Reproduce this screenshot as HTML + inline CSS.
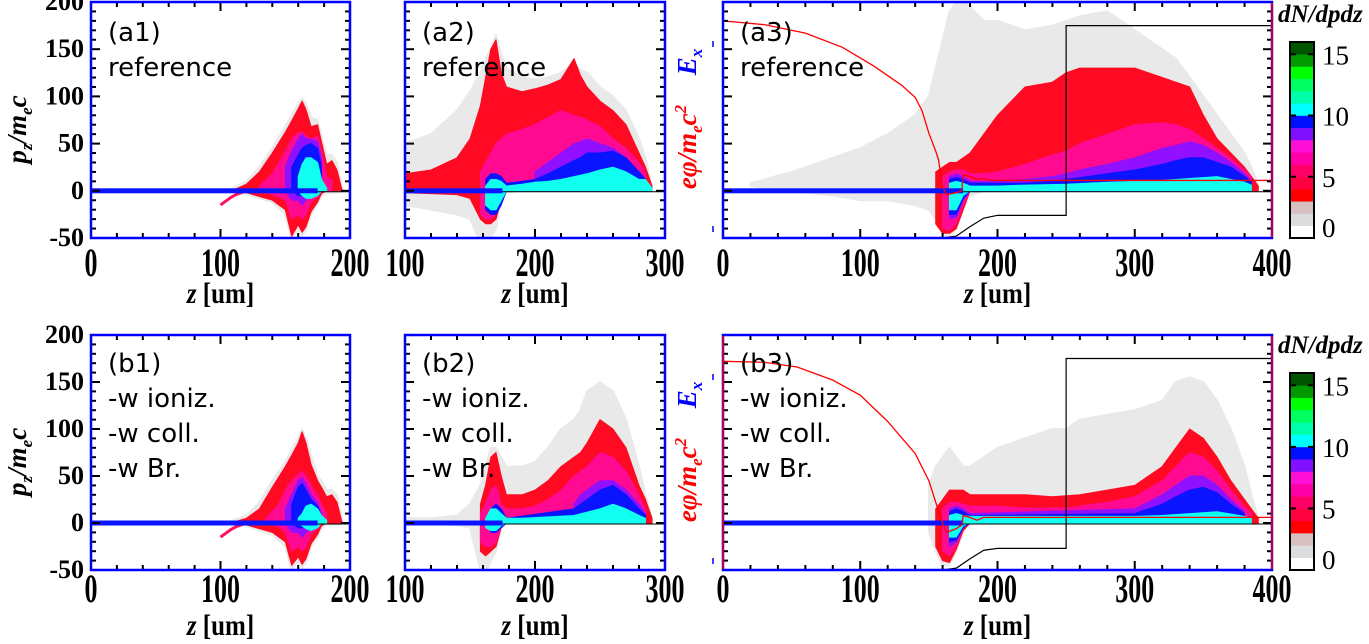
<!DOCTYPE html>
<html><head><meta charset="utf-8"><style>
html,body{margin:0;padding:0;background:#fff;}
svg{display:block;}
.tk{font-family:"Liberation Serif",serif;font-weight:bold;fill:#000;}
.pl{font-family:"DejaVu Sans","Liberation Sans",sans-serif;font-size:26px;fill:#000;}
</style></head><body>
<svg id="fig" width="1369" height="644" viewBox="0 0 1369 644" xmlns="http://www.w3.org/2000/svg"></svg>
<script>
// ---------- data (z [um], upper p, lower p) ----------
const a1Gray=[[108,2,0],[120,10,-3],[130,25,-8],[140,45,-12],[150,68,-25],[155,80,-52],[160,92,-40],[163,98,-48],[166,92,-42],[170,78,-25],[175,75,-15],[178,58,-5],[182,38,-2],[186,38,-2],[190,30,-2],[194,4,-1]];
const a1Red=[[110,1,0],[120,7,-2],[130,20,-6],[140,40,-10],[150,62,-20],[155,74,-48],[160,87,-36],[163,95,-44],[166,86,-38],[170,68,-22],[175,70,-12],[178,52,-3],[182,28,0],[186,32,0],[190,22,0],[194,0,0]];
const a1Pink=[[130,5,0],[140,18,-4],[150,42,-10],[155,55,-30],[160,62,-25],[163,62,-30],[166,58,-25],[170,55,-12],[175,58,-6],[178,42,-1],[182,15,0],[186,12,0]];
const a1Purple=[[150,25,0],[155,42,-10],[160,55,-10],[163,60,-15],[166,55,-10],[170,55,-5],[175,52,-2],[178,35,0]];
const a1Blue=[[155,25,0],[160,38,-5],[163,45,-5],[166,48,-3],[170,50,-3],[175,45,-2],[178,25,0]];
const a1Cyan=[[160,15,0],[163,28,-5],[166,35,-8],[170,35,-8],[175,30,-5],[178,12,0],[182,3,0]];
const a1Tail=[[100,-15],[104,-11],[108,-7],[112,-4],[118,-1],[125,0]];

const b1Gray=[[108,2,0],[120,8,-3],[130,22,-8],[140,45,-12],[150,65,-25],[155,78,-50],[160,90,-40],[163,100,-48],[166,90,-42],[170,72,-25],[175,50,-15],[178,45,-5],[182,35,-2],[186,35,-2],[190,30,-2],[194,4,-1]];
const b1Red=[[110,1,0],[120,5,-2],[130,15,-6],[140,38,-10],[150,60,-20],[155,72,-45],[160,85,-36],[163,97,-44],[166,85,-38],[170,62,-22],[175,45,-12],[178,38,-3],[182,28,0],[186,30,0],[190,22,0],[194,0,0]];
const b1Pink=[[135,5,0],[145,20,-4],[150,35,-10],[155,45,-30],[160,52,-25],[163,55,-30],[166,50,-25],[170,40,-12],[175,30,-6],[178,20,-1],[182,10,0]];
const b1Purple=[[150,15,0],[155,30,-10],[160,45,-10],[163,48,-15],[166,42,-10],[170,30,-5],[175,22,-2],[178,10,0]];
const b1Blue=[[155,20,0],[160,38,-5],[163,42,-5],[166,35,-3],[170,25,-3],[175,18,-2],[178,8,0]];
const b1Cyan=[[160,5,0],[163,10,-3],[166,18,-6],[170,20,-8],[175,15,-5],[178,8,0],[182,3,0]];
const b1Tail=[[100,-15],[104,-11],[108,-7],[112,-4],[118,-1],[125,0]];

const a2Gray=[[100,50,-15],[120,60,-20],[140,85,-25],[150,105,-30],[158,125,-55],[162,140,-55],[166,150,-50],[170,165,-40],[174,145,-10],[178,130,-2],[190,120,0],[200,118,0],[210,120,0],[220,125,0],[230,135,0],[235,128,0],[240,125,0],[250,110,0],[260,100,0],[270,85,0],[280,55,0],[285,35,0],[290,5,0]];
const a2Red=[[100,18,-2],[120,22,-3],[140,35,-4],[150,55,-8],[158,90,-30],[162,120,-35],[166,150,-35],[170,160,-30],[174,125,-10],[178,110,0],[190,105,0],[200,108,0],[210,112,0],[220,118,0],[230,140,0],[235,122,0],[240,110,0],[250,95,0],[260,85,0],[270,70,0],[280,40,0],[285,25,0],[290,5,0]];
const a2Pink=[[158,20,-25],[162,30,-30],[166,40,-30],[170,50,-25],[174,55,-8],[178,60,0],[190,65,0],[200,70,0],[210,78,0],[220,85,0],[230,80,0],[235,78,0],[240,75,0],[250,68,0],[260,55,0],[270,45,0],[280,30,0],[285,20,0]];
const a2Purple=[[200,20,0],[210,30,0],[220,40,0],[230,50,0],[235,52,0],[240,55,0],[250,50,0],[260,45,0],[270,35,0],[280,20,0],[285,12,0]];
const a2Blue=[[162,12,-20],[166,18,-25],[170,18,-25],[174,15,-15],[178,8,0],[190,10,0],[200,12,0],[210,18,0],[220,25,0],[230,32,0],[235,35,0],[240,40,0],[250,40,0],[260,42,0],[270,35,0],[280,20,0],[285,12,0]];
const a2Cyan=[[162,5,-15],[166,12,-20],[170,12,-20],[174,10,-10],[178,5,0],[190,7,0],[200,9,0],[210,10,0],[220,12,0],[230,15,0],[240,18,0],[250,22,0],[260,25,0],[270,20,0],[280,12,0],[285,12,0],[290,3,0]];

const b2Gray=[[100,5,-1],[120,5,-1],[140,8,-2],[150,20,-5],[158,40,-50],[162,60,-55],[166,80,-40],[170,80,-30],[174,70,-5],[178,60,0],[190,60,0],[200,65,0],[210,80,0],[220,100,0],[230,110,0],[235,120,0],[240,140,0],[250,150,0],[260,140,0],[270,110,0],[280,60,0],[285,30,0],[290,5,0]];
const b2Red=[[158,20,-30],[162,40,-35],[166,70,-30],[170,75,-25],[174,50,-5],[178,30,0],[190,30,0],[200,35,0],[210,45,0],[220,60,0],[230,70,0],[235,75,0],[240,85,0],[250,110,0],[260,100,0],[270,80,0],[280,40,0],[285,25,0],[290,5,0]];
const b2Pink=[[158,10,-20],[162,20,-25],[166,35,-25],[170,40,-20],[174,20,-5],[178,15,0],[190,15,0],[200,18,0],[210,25,0],[220,35,0],[230,50,0],[235,55,0],[240,60,0],[250,75,0],[260,70,0],[270,55,0],[280,30,0],[285,15,0]];
const b2Purple=[[230,20,0],[235,30,0],[240,35,0],[250,45,0],[260,45,0],[270,35,0],[280,20,0],[285,10,0]];
const b2Blue=[[166,15,-10],[170,20,-10],[174,15,-5],[178,5,0],[230,15,0],[235,20,0],[240,25,0],[250,35,0],[260,40,0],[270,30,0],[280,15,0],[285,8,0]];
const b2Cyan=[[162,5,-5],[166,15,-8],[170,15,-8],[174,10,-3],[178,5,0],[190,5,0],[230,8,0],[250,15,0],[260,20,0],[270,15,0],[280,8,0],[285,5,0]];

const a3Gray=[[20,8,5],[50,20,0],[80,35,-5],[100,45,-10],[120,60,-10],[140,80,-15],[150,100,-20],[155,130,-30],[160,160,-45],[165,190,-50],[170,200,-40],[175,200,-20],[180,195,-5],[190,180,0],[200,180,0],[220,170,0],[240,175,0],[250,180,0],[260,185,0],[280,190,0],[300,170,0],[320,150,0],[330,140,0],[340,120,0],[350,100,0],[360,80,0],[370,60,0],[380,40,0],[385,25,0],[390,5,0]];
const a3Red=[[155,20,-35],[160,25,-45],[165,30,-45],[170,30,-40],[175,35,-20],[180,40,0],[190,60,0],[200,80,0],[220,110,0],[240,115,0],[250,125,0],[260,130,0],[280,130,0],[300,130,0],[320,120,0],[330,115,0],[340,110,0],[350,80,0],[360,55,0],[370,40,0],[380,25,0],[385,15,0],[390,5,0]];
const a3Pink=[[160,15,-40],[165,20,-42],[170,22,-35],[175,22,-15],[180,18,0],[190,18,0],[200,20,0],[220,28,0],[240,38,0],[250,42,0],[260,50,0],[280,60,0],[300,70,0],[320,72,0],[330,70,0],[340,65,0],[350,55,0],[360,45,0],[370,35,0],[380,22,0],[385,15,0]];
const a3Purple=[[165,15,-30],[170,18,-28],[175,15,-10],[180,10,0],[200,10,0],[220,12,0],[240,15,0],[250,18,0],[260,22,0],[280,28,0],[300,35,0],[320,45,0],[330,48,0],[340,52,0],[350,48,0],[360,40,0],[370,30,0],[380,18,0],[385,10,0]];
const a3Blue=[[165,12,-25],[170,14,-25],[175,12,-8],[180,8,0],[220,8,0],[240,10,0],[250,12,0],[260,14,0],[280,18,0],[300,22,0],[320,28,0],[330,32,0],[340,35,0],[350,35,0],[360,30,0],[370,25,0],[380,15,0],[385,10,0]];
const a3Cyan=[[165,8,-20],[170,10,-20],[175,8,-5],[180,5,0],[200,5,0],[220,6,0],[250,7,0],[280,9,0],[300,10,0],[320,11,0],[340,13,0],[360,15,0],[370,12,0],[380,9,0],[385,6,0]];
const a3Phi=[[0,180],[30,176],[60,167],[87,152],[110,132],[130,112],[140,99],[145,85],[150,61],[155,42],[157,33],[160,4],[163,-4],[170,-2],[174,0],[175,17],[180,15],[185,12],[190,13],[195,11],[400,11]];
const a3Step=[[160,-50],[170,-48],[180,-38],[190,-29],[200,-26],[250,-26],[250,175],[400,175]];

const b3Gray=[[150,40,-10],[155,60,-30],[160,70,-45],[165,80,-45],[170,70,-30],[175,60,-10],[180,60,0],[190,70,0],[200,80,0],[220,90,0],[240,100,0],[250,100,0],[260,110,0],[280,115,0],[300,120,0],[320,130,0],[330,150,0],[340,155,0],[350,150,0],[360,130,0],[370,100,0],[380,60,0],[385,30,0],[390,5,0]];
const b3Red=[[155,15,-25],[160,25,-40],[165,35,-42],[170,35,-28],[175,35,-8],[180,30,0],[200,30,0],[220,30,0],[240,28,0],[260,30,0],[280,35,0],[300,40,0],[320,60,0],[330,80,0],[340,100,0],[350,90,0],[360,70,0],[370,45,0],[380,25,0],[385,15,0],[390,5,0]];
const b3Pink=[[160,15,-30],[165,22,-35],[170,22,-25],[175,20,-5],[180,18,0],[200,18,0],[220,16,0],[250,16,0],[260,18,0],[280,22,0],[300,28,0],[320,45,0],[330,60,0],[340,75,0],[350,70,0],[360,55,0],[370,35,0],[380,18,0],[385,10,0]];
const b3Purple=[[165,15,-25],[170,18,-20],[175,15,-5],[180,10,0],[300,15,0],[320,30,0],[330,40,0],[340,50,0],[350,50,0],[360,40,0],[370,25,0],[380,12,0]];
const b3Blue=[[165,12,-20],[170,15,-18],[175,12,-5],[180,8,0],[300,10,0],[320,20,0],[330,28,0],[340,35,0],[350,38,0],[360,32,0],[370,20,0],[380,10,0]];
const b3Cyan=[[165,8,-15],[170,10,-15],[175,8,-3],[180,7,0],[300,7,0],[320,8,0],[340,10,0],[360,12,0],[380,7,0],[385,5,0]];
const b3Phi=[[0,172],[30,171],[54,166],[80,152],[100,136],[120,108],[140,74],[150,45],[155,22],[160,0],[163,-10],[170,-6],[174,-2],[175,8],[180,6],[185,3],[190,6],[200,6],[400,6]];
const b3Step=[[160,-50],[170,-48],[180,-38],[190,-29],[200,-27],[250,-27],[250,175],[400,175]];

const cbColors=['#ffffff','#dcdcdc','#d9c0c0','#ff0000','#ff0040','#ff0068','#ff00a8','#ff10d8','#8010ff','#0010ff','#00ffff','#00ffaa','#00ff60','#00ff00','#009900','#005500'];
const cbTicks=[0,5,10,15];
const yTicks=[-50,0,50,100,150,200];

// ---------- drawing ----------
const NS='http://www.w3.org/2000/svg';
const svg=document.getElementById('fig');
function mk(tag,attrs,parent){const e=document.createElementNS(NS,tag);for(const k in attrs)e.setAttribute(k,attrs[k]);(parent||svg).appendChild(e);return e;}
const layerColors=['#e9e9e9','#ff0a22','#ff0a90','#9010ff','#0a14ff','#10fff0'];
const LAYER_NAMES=['gray-density','red-density','pink-density','purple-density','blue-density','cyan-density'];

function panel(p){
  const g=mk('g',{});
  
  
  const sx=z=>p.x0+(z-p.zmin)/(p.zmax-p.zmin)*(p.x1-p.x0);
  const sy=v=>p.y1-(v+50)/250*(p.y1-p.y0);
  const clipId='clip-'+p.id;
  const cp=mk('clipPath',{id:clipId},g);mk('rect',{x:p.x0,y:p.y0,width:p.x1-p.x0,height:p.y1-p.y0},cp);
  const inner=mk('g',{'clip-path':'url(#'+clipId+')'},g);
  p.layers.forEach((L,i)=>{
    const pts=L.map(d=>sx(d[0]).toFixed(1)+','+sy(d[1]).toFixed(1)).concat(L.slice().reverse().map(d=>sx(d[0]).toFixed(1)+','+sy(d[2]).toFixed(1)));
    const poly=mk('polygon',{points:pts.join(' '),fill:layerColors[i],stroke:layerColors[i],'stroke-width':i==0?2:1,'stroke-linejoin':'round'},inner);
    
    
  });
  if(p.tail){const t=mk('polyline',{points:p.tail.map(d=>sx(d[0])+','+sy(d[1])).join(' '),fill:'none',stroke:'#ff1060','stroke-width':3},inner);
    }
  const zl=mk('line',{x1:sx(175),x2:p.x1,y1:sy(-1),y2:sy(-1),stroke:'#000','stroke-width':1},inner);
  
  const ex=mk('rect',{x:sx(Math.max(p.zmin,0)),y:sy(0)-2.5,width:sx(175)-sx(Math.max(p.zmin,0)),height:5,fill:'#0a14ff'},inner);
  
  if(p.step){const s=mk('polyline',{points:p.step.map(d=>sx(d[0])+','+sy(d[1])).join(' '),fill:'none',stroke:'#000','stroke-width':1.2},inner);
    }
  if(p.phi){const s=mk('polyline',{points:p.phi.map(d=>sx(d[0])+','+sy(d[1])).join(' '),fill:'none',stroke:'#ff0000','stroke-width':1.3},inner);
    }
  for(let z=p.zmin;z<=p.zmax;z+=20){const maj=z%100==0;const L=maj?9:5;
    mk('line',{x1:sx(z),x2:sx(z),y1:p.y1,y2:p.y1-L,stroke:'#000','stroke-width':2},g);
    mk('line',{x1:sx(z),x2:sx(z),y1:p.y0,y2:p.y0+L,stroke:'#000','stroke-width':2},g);}
  for(let v=-50;v<=200;v+=10){const maj=v%50==0;const L=maj?9:5;
    mk('line',{x1:p.x0,x2:p.x0+L,y1:sy(v),y2:sy(v),stroke:'#000','stroke-width':2},g);
    mk('line',{x1:p.x1,x2:p.x1-L,y1:sy(v),y2:sy(v),stroke:'#000','stroke-width':2},g);}
  const fr=mk('rect',{x:p.x0,y:p.y0,width:p.x1-p.x0,height:p.y1-p.y0,fill:'none',stroke:'#0000ff','stroke-width':2.5},g);
  
  if(p.redRight) mk('line',{x1:p.x1,x2:p.x1,y1:p.y0+1,y2:p.y1-1,stroke:'#ff0000','stroke-width':1.5},g);
  if(p.redLeft) mk('line',{x1:p.x0,x2:p.x0,y1:p.y0+1,y2:p.y1-1,stroke:'#ff0000','stroke-width':1.5},g);
  for(let z=p.zmin;z<=p.zmax;z+=100){
    const t=mk('text',{class:'tk','font-size':26,'text-anchor':'middle',transform:'translate('+sx(z)+','+(p.y1+(p.top?38:32))+') scale(1,1.55)'},g);
    t.textContent=z;}
  const xl=mk('text',{class:'tk','font-size':25,'text-anchor':'middle',transform:'translate('+((p.x0+p.x1)/2)+','+(p.y1+65)+') scale(1,1.2)'},g);
  xl.innerHTML='<tspan font-style="italic">z</tspan> [um]';
  
  if(p.ylab){
    yTicks.forEach(v=>{const t=mk('text',{class:'tk','font-size':26,'text-anchor':'end',x:84,y:sy(v)+8},g);t.textContent=v;
      });
    const yl=mk('text',{class:'tk','font-size':27,'font-style':'italic','text-anchor':'middle',transform:'translate(26,'+(p.y0+(p.y1-p.y0)*0.54)+') rotate(-90)'},g);
    yl.innerHTML='p<tspan font-size="17" dy="6">z</tspan><tspan dy="-6">/m</tspan><tspan font-size="17" dy="6">e</tspan><tspan dy="-6">c</tspan>';
    }
  p.text.forEach((s,i)=>{const t=mk('text',{class:'pl',x:p.x0+17,y:p.y0+(p.top?39:37)+i*35},g);t.textContent=s;
    });
  if(p.right){
    const r=mk('text',{class:'tk','font-size':27,'font-style':'italic','text-anchor':'middle',style:'fill:#ff0000',transform:'translate(696,'+(p.y0+145)+') rotate(-90)'},g);
    r.innerHTML='eφ/m<tspan font-size="17" dy="6">e</tspan><tspan dy="-6">c</tspan><tspan font-size="17" dy="-10">2</tspan>';
    
    const e=mk('text',{class:'tk','font-size':27,'font-style':'italic','text-anchor':'middle',style:'fill:#0000ff',transform:'translate(696,'+(p.y0+60)+') rotate(-90)'},g);
    e.innerHTML='E<tspan font-size="17" dy="6">x</tspan>';
    
    [p.y0+42,p.y1-9].forEach(y=>mk('line',{x1:713,x2:713,y1:y-3,y2:y+3,stroke:'#0000ff','stroke-width':1.5},g));
  }
}
function colorbar(cb){
  const g=mk('g',{});
  
  
  const h=(cb.y1-cb.y0)/cbColors.length;
  cbColors.forEach((c,i)=>{const r=mk('rect',{x:1290,y:cb.y1-(i+1)*h,width:24,height:h+0.3,fill:c},g);
    });
  mk('rect',{x:1290,y:cb.y0,width:24,height:cb.y1-cb.y0,fill:'none',stroke:'#000','stroke-width':2},g);
  cbTicks.forEach(v=>{const y=cb.y1-v*h;
    mk('line',{x1:1290,x2:1296,y1:y,y2:y,stroke:'#000','stroke-width':2},g);
    mk('line',{x1:1308,x2:1314,y1:y,y2:y,stroke:'#000','stroke-width':2},g);
    const t=mk('text',{class:'tk','font-size':27,x:1322,y:Math.min(y+10,cb.y1-1),style:'font-weight:normal'},g);t.textContent=v;
    });
  const t=mk('text',{class:'tk','font-size':25,'font-style':'italic',x:1278,y:cb.y0-20},g);t.textContent='dN/dpdz';
  
}
const TOP={y0:2,y1:238,top:true},BOT={y0:335,y1:570,top:false};
panel(Object.assign({id:'a1',x0:91,x1:350,zmin:0,zmax:200,layers:[a1Gray,a1Red,a1Pink,a1Purple,a1Blue,a1Cyan],tail:a1Tail,ylab:true,text:['(a1)','reference']},TOP));
panel(Object.assign({id:'a2',x0:405,x1:665,zmin:100,zmax:300,layers:[a2Gray,a2Red,a2Pink,a2Purple,a2Blue,a2Cyan],text:['(a2)','reference']},TOP));
panel(Object.assign({id:'a3',x0:723,x1:1272,zmin:0,zmax:400,layers:[a3Gray,a3Red,a3Pink,a3Purple,a3Blue,a3Cyan],phi:a3Phi,step:a3Step,right:true,redRight:true,text:['(a3)','reference']},TOP));
panel(Object.assign({id:'b1',x0:91,x1:350,zmin:0,zmax:200,layers:[b1Gray,b1Red,b1Pink,b1Purple,b1Blue,b1Cyan],tail:b1Tail,ylab:true,text:['(b1)','-w ioniz.','-w coll.','-w Br.']},BOT));
panel(Object.assign({id:'b2',x0:405,x1:665,zmin:100,zmax:300,layers:[b2Gray,b2Red,b2Pink,b2Purple,b2Blue,b2Cyan],text:['(b2)','-w ioniz.','-w coll.','-w Br.']},BOT));
panel(Object.assign({id:'b3',x0:723,x1:1272,zmin:0,zmax:400,layers:[b3Gray,b3Red,b3Pink,b3Purple,b3Blue,b3Cyan],phi:b3Phi,step:b3Step,right:true,redRight:true,redLeft:true,text:['(b3)','-w ioniz.','-w coll.','-w Br.']},BOT));
colorbar({id:'top',y0:42,y1:238});
colorbar({id:'bottom',y0:373,y1:570});
</script>
</body></html>
